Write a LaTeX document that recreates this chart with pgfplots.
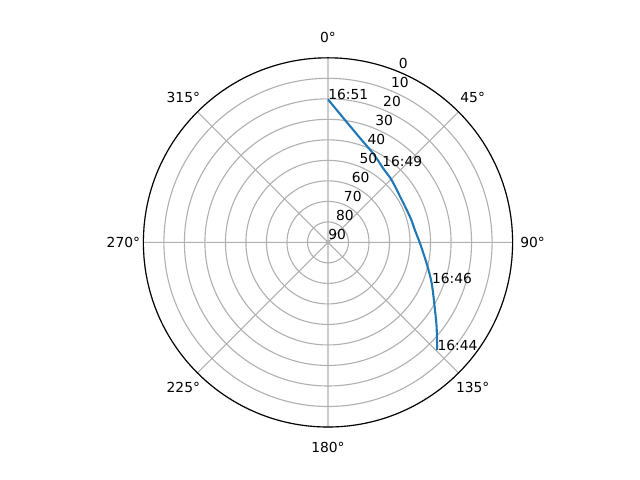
\documentclass[border=0pt]{standalone}
\usepackage{fontspec}
\setmainfont{DejaVu Sans}
\usepackage{pgfplots}
\usepackage{pgfplotstable}
\pgfplotsset{compat=1.18}
\usepgfplotslibrary{polar}

\definecolor{mplblue}{HTML}{1F77B4}
\definecolor{mplgrid}{HTML}{B0B0B0}

% pass track: azimuth (deg, clockwise from north), elevation (deg)
\pgfplotstableread{
az el
134.6 15.2
127.9 22.9
122.4 28.2
111.6 35.6
102.1 40.8
90.7 45.1
82.0 47.2
73.9 48.0
60.2 48.5
45.7 46.6
36.8 45.0
27.0 41.4
18.3 37.5
8.8 30.6
0.0 20.3
}\track

\pgfplotstableread{
az el lab
134.6 15.2 16:44
111.6 35.6 16:46
35.5 44.6 16:49
0.0 20.3 16:51
}\times

\begin{document}
\begin{tikzpicture}
\path[use as bounding box] (-3.28in,-2.376in) rectangle (3.12in,2.424in);
\begin{polaraxis}[
    at={(0,0)}, anchor=center,
    scale only axis,
    width=3.692in, height=3.692in,
    xmin=0, xmax=360, ymin=0, ymax=90,
    xtick={0,45,...,315}, xticklabels={},
    ytick={0,10,...,90}, yticklabels={},
    grid=major,
    major grid style={draw=mplgrid, line width=0.8pt},
    x axis line style={draw=black, line width=0.8pt},
    y axis line style={draw=none},
    tick style={draw=none},
    clip=false,
    font=\fontsize{10}{12}\selectfont,
]
\addplot[mplblue, line width=1.5pt, smooth, tension=0.5]
    table[x expr={90-\thisrow{az}}, y expr={90-\thisrow{el}}] {\track};
\addplot[draw=none, mark=none, nodes near coords, point meta=explicit symbolic,
    every node near coord/.style={anchor=base west, inner sep=0pt, font=\fontsize{10}{12}\selectfont}]
    table[x expr={90-\thisrow{az}}, y expr={90-\thisrow{el}}, meta=lab] {\times};
% azimuth labels
\node[anchor=center] at (axis cs:90,99.75) {0°};
\node[anchor=center] at (axis cs:45,99.75) {45°};
\node[anchor=center] at (axis cs:0,99.75) {90°};
\node[anchor=center] at (axis cs:315,99.75) {135°};
\node[anchor=center] at (axis cs:270,99.75) {180°};
\node[anchor=center] at (axis cs:225,99.75) {225°};
\node[anchor=center] at (axis cs:180,99.75) {270°};
\node[anchor=center] at (axis cs:135,99.75) {315°};
% elevation labels along azimuth 22.5
\node[anchor=base west, inner sep=0pt, yshift=2.3pt] at (axis cs:67.5,90) {0};
\node[anchor=base west, inner sep=0pt, yshift=2.3pt] at (axis cs:67.5,80) {10};
\node[anchor=base west, inner sep=0pt, yshift=2.3pt] at (axis cs:67.5,70) {20};
\node[anchor=base west, inner sep=0pt, yshift=2.3pt] at (axis cs:67.5,60) {30};
\node[anchor=base west, inner sep=0pt, yshift=2.3pt] at (axis cs:67.5,50) {40};
\node[anchor=base west, inner sep=0pt, yshift=2.3pt] at (axis cs:67.5,40) {50};
\node[anchor=base west, inner sep=0pt, yshift=2.3pt] at (axis cs:67.5,30) {60};
\node[anchor=base west, inner sep=0pt, yshift=2.3pt] at (axis cs:67.5,20) {70};
\node[anchor=base west, inner sep=0pt, yshift=2.3pt] at (axis cs:67.5,10) {80};
\node[anchor=base west, inner sep=0pt, yshift=2.3pt] at (axis cs:67.5,0) {90};
\end{polaraxis}
\end{tikzpicture}
\end{document}
